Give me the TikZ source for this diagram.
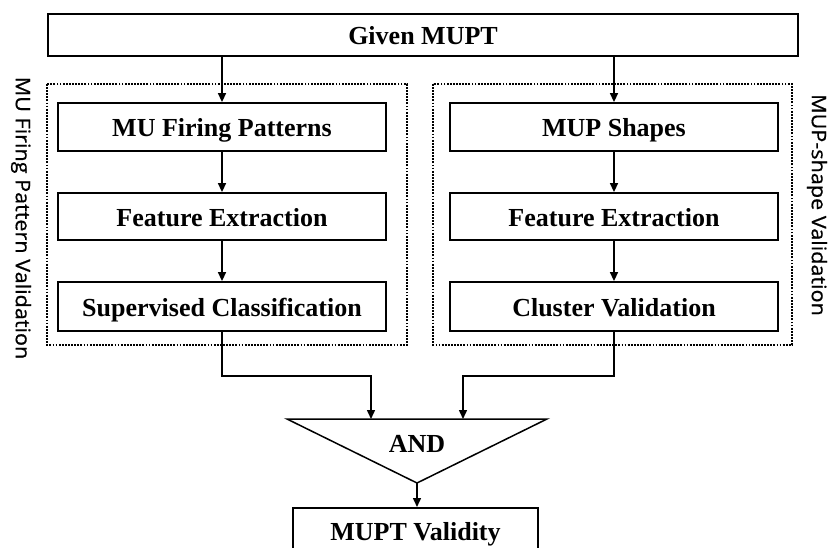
\documentclass[tikz,border=0pt]{standalone}
\usepackage{fontspec}
\setmainfont{Liberation Serif}
\newfontfamily\labfont[FakeBold=0.6]{Open Sans}
\usetikzlibrary{arrows.meta}
\begin{document}
\begin{tikzpicture}[x=1pt,y=-1pt,
  box/.style={draw, line width=1.8pt, inner sep=0pt, text height=22pt, text depth=2pt, font=\fontsize{26}{28}\selectfont\bfseries},
  lbl/.style={inner sep=0pt, anchor=base, font=\fontsize{26}{28}\selectfont\bfseries},
  grp/.style={draw, line width=2.2pt, dash pattern=on 1.8pt off 1.3pt},
  arr/.style={line width=1.5pt, -{Triangle[length=9pt,width=8pt]}},
  ln/.style={line width=1.5pt},
  side/.style={rotate=-90, inner sep=0pt, font=\labfont\fontsize{20}{22}\selectfont}]
\useasboundingbox (0,0) rectangle (828,548);
\clip (0,0) rectangle (828,548);
% top box
\node[box, minimum width=750pt, minimum height=42pt] (given) at (423,35) {Given MUPT};
% group frames
\draw[grp] (47,84) rectangle (407,345);
\draw[grp] (433,84) rectangle (792,345);
% left column
\node[box, minimum width=328pt, minimum height=48pt] (l1) at (222,127) {MU Firing Patterns};
\node[box, minimum width=328pt, minimum height=47pt] (l2) at (222,216.5) {Feature Extraction};
\node[box, minimum width=328pt, minimum height=49pt] (l3) at (222,306.5) {Supervised Classification};
% right column
\node[box, minimum width=328pt, minimum height=48pt] (r1) at (614,127) {MUP Shapes};
\node[box, minimum width=328pt, minimum height=47pt] (r2) at (614,216.5) {Feature Extraction};
\node[box, minimum width=328pt, minimum height=49pt] (r3) at (614,306.5) {Cluster Validation};
% side labels
\node[side] (sl) at (21,218) {\scalebox{1.08}[1]{MU Firing Pattern Validation}};
\node[side] (sr) at (817,205) {\scalebox{1.08}[1]{MUP-shape Validation}};
% AND triangle
\coordinate (tA) at (287,419);
\coordinate (tB) at (547,419);
\coordinate (tC) at (417,483);
\draw[ln, line join=miter] (tA) -- (tB) -- (tC) -- cycle;
\node[lbl] (and) at (417,452) {AND};
\coordinate (inL) at (371,419);
\coordinate (inR) at (463,419);
% result box
\node[box, minimum width=245pt, minimum height=47pt, anchor=north] (valid) at (415.5,507) {};
\node[lbl] (vtxt) at (415.5,540) {MUPT Validity};
% arrows
\draw[arr] (given.south -| l1) -- (l1.north);
\draw[arr] (given.south -| r1) -- (r1.north);
\draw[arr] (l1) -- (l2);
\draw[arr] (l2) -- (l3);
\draw[arr] (r1) -- (r2);
\draw[arr] (r2) -- (r3);
\draw[arr] (l3.south) -- ++(0,44) -| (inL);
\draw[arr] (r3.south) -- ++(0,44) -| (inR);
\draw[arr] (tC) -- (tC |- valid.north);
\end{tikzpicture}
\end{document}
